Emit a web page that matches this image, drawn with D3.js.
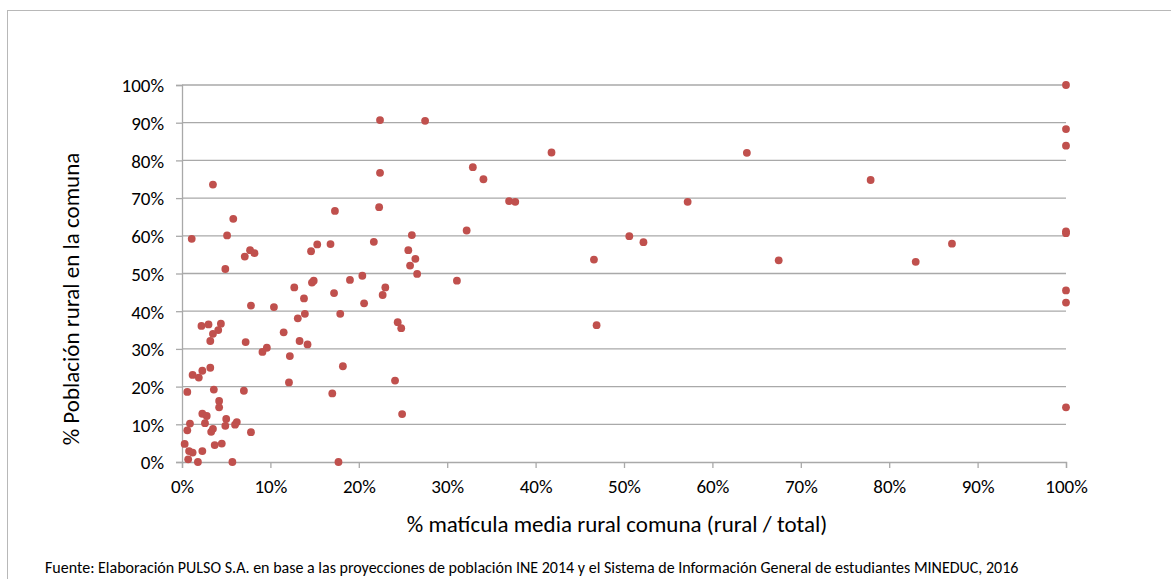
<!DOCTYPE html>
<html>
<head>
<meta charset="utf-8">
<script src="https://cdn.jsdelivr.net/npm/d3@7"></script>
<style>
  html, body { margin: 0; padding: 0; background: #fff; }
  svg { display: block; }
  text { font-family: Carlito, Lato, "Liberation Sans", sans-serif; fill: #000; }
</style>
</head>
<body>
<svg id="chart" width="1171" height="579"></svg>
<script>
// % matrícula media rural comuna (rural / total)
const xValues = [
  12.7, 14.7, 14.9, 19.0, 17.2, 13.8, 20.6, 7.8, 10.4, 13.9,
  17.9, 13.1, 2.2, 3.0, 4.4, 4.1, 3.5, 3.2, 11.5, 7.2,
  13.3, 14.2, 9.6, 9.1, 12.2, 18.2, 1.2, 1.9, 2.3, 3.2,
  12.1, 0.6, 3.6, 7.0, 17.0, 4.2, 4.2, 2.3, 2.8, 5.0,
  6.2, 6.0, 2.6, 4.9, 0.9, 0.6, 3.5, 3.3, 7.8, 0.3,
  3.7, 4.5, 0.8, 1.2, 2.3, 0.7, 1.8, 5.7, 17.7,
  22.4, 27.5, 22.4, 3.5, 22.3, 17.3, 5.8, 1.1, 5.1, 26.0,
  7.7, 8.2, 7.1, 14.6, 15.3, 16.8, 21.7, 25.6, 26.4, 25.8,
  26.6, 4.9, 20.4, 23.0,
  41.8, 32.9, 34.1, 37.0, 37.7, 32.2, 31.1, 46.6, 22.7, 24.4,
  24.8, 46.9, 24.1, 24.9,
  63.9, 77.9, 57.2, 50.6, 52.2, 67.5,
  100, 100, 100, 100, 100, 87.1, 83.0, 100, 100, 100
];
// % Población rural en la comuna
const yValues = [
  46.3, 47.6, 48.1, 48.3, 44.8, 43.4, 42.1, 41.5, 41.1, 39.3,
  39.3, 38.1, 36.1, 36.5, 36.7, 35.0, 34.0, 32.1, 34.4, 31.8,
  32.1, 31.2, 30.3, 29.2, 28.1, 25.4, 23.1, 22.4, 24.2, 25.0,
  21.1, 18.6, 19.2, 18.9, 18.2, 16.2, 14.5, 12.8, 12.2, 11.4,
  10.6, 9.9, 10.3, 9.6, 10.2, 8.4, 8.8, 8.0, 7.9, 4.8,
  4.5, 4.9, 2.9, 2.5, 2.9, 0.7, 0, 0, 0,
  90.7, 90.5, 76.7, 73.6, 67.6, 66.6, 64.5, 59.2, 60.1, 60.2,
  56.2, 55.4, 54.5, 55.9, 57.7, 57.8, 58.4, 56.2, 53.9, 52.1,
  49.9, 51.2, 49.4, 46.3,
  82.1, 78.2, 75.0, 69.2, 69.0, 61.4, 48.1, 53.7, 44.3, 37.1,
  35.5, 36.3, 21.6, 12.7,
  82.0, 74.8, 69.0, 59.9, 58.3, 53.5,
  100, 88.3, 83.9, 61.2, 60.7, 57.9, 53.1, 45.5, 42.3, 14.5
];
const tickValues = [0, 10, 20, 30, 40, 50, 60, 70, 80, 90, 100];
const xTitle = "% matícula media rural comuna (rural / total)";
const yTitle = "% Población rural en la comuna";
const sourceNote = "Fuente: Elaboración PULSO S.A. en base a las proyecciones de población INE 2014 y el Sistema de Información General de estudiantes MINEDUC, 2016";

const points = xValues.map((x, i) => ({ x, y: yValues[i] }));

const svg = d3.select("#chart");
const plot = { left: 182, right: 1066, top: 85, bottom: 462 };

// outer frame
svg.append("rect")
  .attr("x", 7.5).attr("y", 10.5)
  .attr("width", 1200).attr("height", 600)
  .attr("fill", "none").attr("stroke", "#b8b8b8").attr("stroke-width", 1);

const x = d3.scaleLinear().domain([0, 100]).range([plot.left, plot.right]);
const y = d3.scaleLinear().domain([0, 100]).range([plot.bottom, plot.top]);

const gridColor = "#a9a9a9";

// horizontal gridlines
svg.append("g")
  .selectAll("line")
  .data(tickValues.filter(d => d > 0))
  .join("line")
  .attr("x1", plot.left).attr("x2", plot.right)
  .attr("y1", d => y(d)).attr("y2", d => y(d))
  .attr("stroke", gridColor).attr("stroke-width", 1.3);

// y axis
const yAxis = d3.axisLeft(y).tickValues(tickValues).tickFormat(d => d + "%").tickSize(6).tickPadding(12);
const gy = svg.append("g").attr("transform", `translate(${plot.left},0)`).call(yAxis);
gy.select(".domain").attr("stroke", gridColor).attr("stroke-width", 1.3);
gy.selectAll(".tick line").attr("stroke", gridColor).attr("stroke-width", 1.3);
gy.selectAll(".tick text").attr("font-size", 19).attr("font-family", "Carlito, Lato, sans-serif").attr("fill", "#000").attr("dy", "0.36em");

// x axis
const xAxis = d3.axisBottom(x).tickValues(tickValues).tickFormat(d => d + "%").tickSize(6).tickPadding(12);
const gx = svg.append("g").attr("transform", `translate(0,${plot.bottom})`).call(xAxis);
gx.select(".domain").attr("stroke", gridColor).attr("stroke-width", 1.3);
gx.selectAll(".tick line").attr("stroke", gridColor).attr("stroke-width", 1.3);
gx.selectAll(".tick text").attr("font-size", 19).attr("font-family", "Carlito, Lato, sans-serif").attr("fill", "#000");

// points
svg.append("g")
  .selectAll("circle")
  .data(points)
  .join("circle")
  .attr("cx", d => x(d.x))
  .attr("cy", d => y(d.y))
  .attr("r", 3.9)
  .attr("fill", "#c0504d");

// axis titles
svg.append("text")
  .attr("x", 617).attr("y", 532)
  .attr("text-anchor", "middle")
  .attr("font-size", 23)
  .text(xTitle);

svg.append("text")
  .attr("transform", "translate(79,299) rotate(-90)")
  .attr("text-anchor", "middle")
  .attr("font-size", 23)
  .text(yTitle);

// source
svg.append("text")
  .attr("x", 45).attr("y", 573)
  .attr("font-size", 16)
  .text(sourceNote);
</script>
</body>
</html>
